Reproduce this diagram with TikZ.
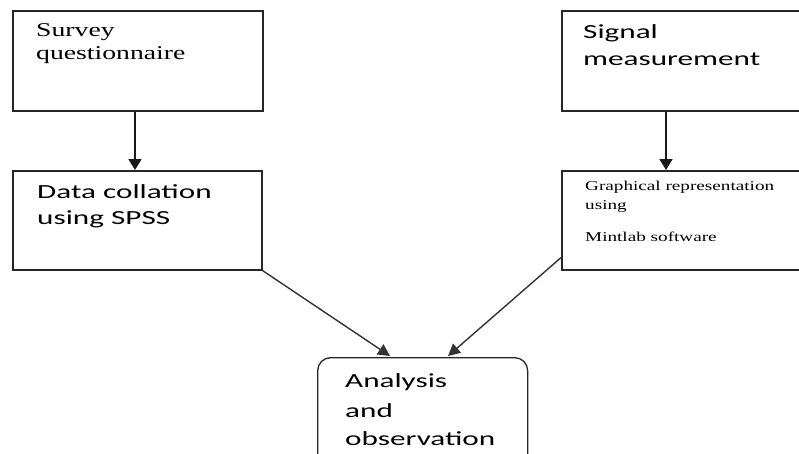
\documentclass[tikz,border=0pt]{standalone}
\usepackage{fontspec}
\usetikzlibrary{arrows.meta,calc}
\newfontfamily\calib[FakeStretch=1.56]{Carlito}
\newfontfamily\serA[FakeStretch=1.42]{Liberation Serif}
\newfontfamily\serB[FakeStretch=1.42]{Liberation Serif}
\begin{document}
\begin{tikzpicture}[x=1pt,y=-1pt,
  boxst/.style={draw=black!85,line width=1.6pt,rectangle,anchor=north west,inner sep=0pt},
  roundst/.style={draw=black!85,line width=1.3pt,rectangle,rounded corners=13pt,anchor=north west,inner sep=0pt},
  txt/.style={anchor=base west,inner sep=0pt,text=black},
  conn/.style={draw=black!90,line width=1.7pt,-{Triangle[length=11pt,width=13pt]}},
  diag/.style={draw=black!80,line width=1.4pt,-{Triangle[length=12pt,width=12pt]}}]
\useasboundingbox (0,0) rectangle (799,453);
% boxes
\node[boxst,minimum width=250pt,minimum height=100pt] (b1) at (12,10) {};
\node[boxst,minimum width=249pt,minimum height=99pt] (b2) at (12,170) {};
\node[boxst,minimum width=260pt,minimum height=100pt] (b3) at (561,10) {};
\node[boxst,minimum width=260pt,minimum height=99pt] (b4) at (561,170) {};
\node[roundst,minimum width=210pt,minimum height=120pt] (b5) at (317,357) {};
% texts
\node[txt,font=\serA\fontsize{19.5}{24}\selectfont] (t1a) at (36,36) {Survey};
\node[txt,font=\serA\fontsize{19.5}{24}\selectfont] (t1b) at (36,59) {questionnaire};
\node[txt,font=\calib\fontsize{20}{24}\selectfont] (t2a) at (37,198) {Data collation};
\node[txt,font=\calib\fontsize{20}{24}\selectfont] (t2b) at (37,224) {using SPSS};
\node[txt,font=\calib\fontsize{20}{24}\selectfont] (t3a) at (583,38) {Signal};
\node[txt,font=\calib\fontsize{20}{24}\selectfont] (t3b) at (583,65) {measurement};
\node[txt,font=\serB\fontsize{13.5}{16}\selectfont] (t4a) at (585,190) {Graphical representation};
\node[txt,font=\serB\fontsize{13.5}{16}\selectfont] (t4b) at (585,209) {using};
\node[txt,font=\serB\fontsize{13.5}{16}\selectfont] (t4c) at (585,241) {Mintlab software};
\node[txt,font=\calib\fontsize{20}{24}\selectfont] (t5a) at (345,387) {Analysis};
\node[txt,font=\calib\fontsize{20}{24}\selectfont] (t5b) at (345,417) {and};
\node[txt,font=\calib\fontsize{20}{24}\selectfont] (t5c) at (345,445) {observation};
% connectors
\draw[conn] ($(b1.south west)+(123,0)$) -- ($(b2.north west)+(123,0)$);
\draw[conn] ($(b3.south west)+(105,0)$) -- ($(b4.north west)+(105,0)$);
\draw[diag] (b2.south east) -- ($(b5.north west)+(73,-1)$);
\draw[diag] ($(b4.south west)+(0,-13)$) -- ($(b5.north west)+(131,-1)$);
\end{tikzpicture}
\end{document}
